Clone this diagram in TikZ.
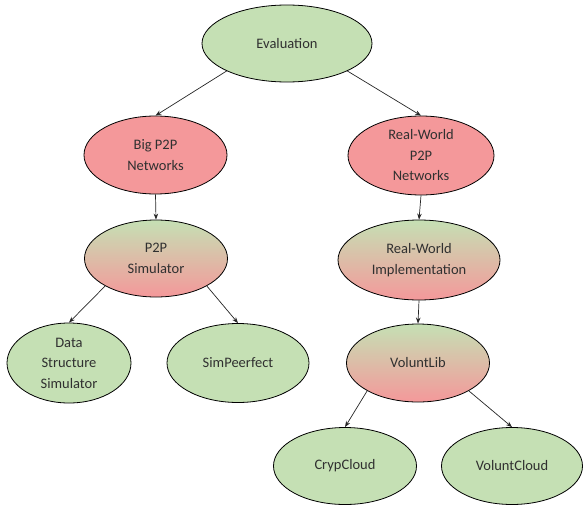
\documentclass[tikz,border=0pt]{standalone}
\usepackage{fontspec}
\setmainfont{Carlito}
\usetikzlibrary{arrows.meta,shapes.geometric}
\definecolor{lgreen}{HTML}{C5E0B4}
\definecolor{lred}{HTML}{F4989A}
\definecolor{txt}{HTML}{303030}
\tikzset{
  bub/.style={ellipse, draw=black, line width=0.8pt, inner sep=-10pt,
    align=center, text=txt, font=\fontsize{14.5}{20.5}\selectfont},
  gbub/.style={bub, fill=lgreen},
  rbub/.style={bub, fill=lred},
  mbub/.style={bub, top color=lgreen, bottom color=lred, middle color=lgreen!50!lred},
  conn/.style={-{Stealth[length=6pt,width=4.5pt]}, line width=0.7pt, black!85},
}
\begin{document}
\begin{tikzpicture}[x=1pt,y=-1pt]
\useasboundingbox (0,0) rectangle (583,506);
\node[gbub, minimum width=170pt, minimum height=77pt] (eval) at (287,43.5) {Evaluation};
\node[rbub, minimum width=143pt, minimum height=78pt] (big) at (155.5,155) {Big P2P\\Networks};
\node[rbub, minimum width=146pt, minimum height=79pt] (rw) at (421,155.5) {Real-World\\P2P\\Networks};
\node[mbub, minimum width=143pt, minimum height=77pt] (sim) at (156,258.5) {P2P\\Simulator};
\node[mbub, minimum width=162pt, minimum height=80pt] (impl) at (419,260) {Real-World\\Implementation};
\node[gbub, minimum width=124pt, minimum height=80pt] (dss) at (69,363) {Data\\Structure\\Simulator};
\node[gbub, minimum width=142pt, minimum height=79pt] (simp) at (238,363) {SimPeerfect};
\node[mbub, minimum width=143pt, minimum height=78pt] (vlib) at (418,363) {VoluntLib};
\node[gbub, minimum width=143pt, minimum height=77pt] (cryp) at (345,466) {CrypCloud};
\node[gbub, minimum width=141pt, minimum height=77pt] (vcloud) at (512,466) {VoluntCloud};
\draw[conn] (eval.south west) -- (big.north);
\draw[conn] (eval.south east) -- (rw.north);
\draw[conn] (big.south) -- (sim.north);
\draw[conn] (rw.south) -- (impl.north);
\draw[conn] (sim.south west) -- (dss.north);
\draw[conn] (sim.south east) -- (simp.north);
\draw[conn] (impl.south) -- (vlib.north);
\draw[conn] (vlib.south west) -- (cryp.north);
\draw[conn] (vlib.south east) -- (vcloud.north);
\end{tikzpicture}
\end{document}
